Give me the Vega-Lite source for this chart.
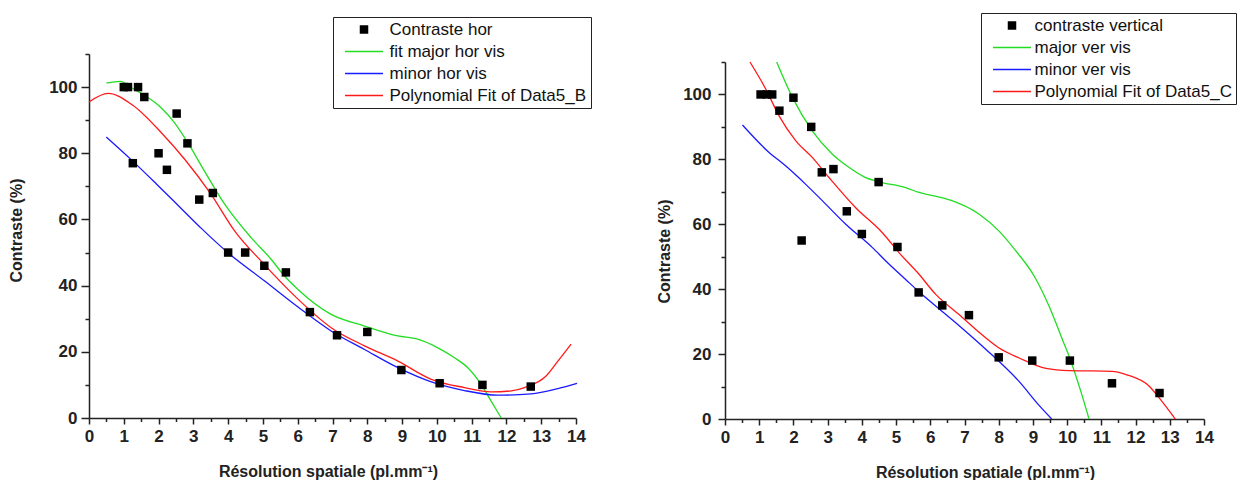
{
  "$schema": "https://vega.github.io/schema/vega-lite/v6.json",
  "background": "white",
  "padding": {"left": 8, "top": 12, "right": 0, "bottom": 0},
  "spacing": 64,
  "config": {
    "view": {"stroke": null},
    "font": "Liberation Sans",
    "axis": {
      "domainColor": "#222", "domainWidth": 1.5, "tickColor": "#222", "tickWidth": 1.5,
      "grid": false, "labelFont": "Liberation Sans", "labelFontWeight": "bold", "labelFontSize": 17,
      "labelColor": "#222", "titleFont": "Liberation Sans", "titleFontWeight": "bold", "titleFontSize": 16,
      "titleColor": "#222", "labelOverlap": false, "labelFlush": false
    }
  },
  "datasets": {
    "left": [
      {"x": 1.0, "y": 100, "series": "Contraste hor"},
      {"x": 1.12, "y": 100, "series": "Contraste hor"},
      {"x": 1.26, "y": 77, "series": "Contraste hor"},
      {"x": 1.41, "y": 100, "series": "Contraste hor"},
      {"x": 1.59, "y": 97, "series": "Contraste hor"},
      {"x": 2.0, "y": 80, "series": "Contraste hor"},
      {"x": 2.24, "y": 75, "series": "Contraste hor"},
      {"x": 2.52, "y": 92, "series": "Contraste hor"},
      {"x": 2.83, "y": 83, "series": "Contraste hor"},
      {"x": 3.17, "y": 66, "series": "Contraste hor"},
      {"x": 3.56, "y": 68, "series": "Contraste hor"},
      {"x": 4.0, "y": 50, "series": "Contraste hor"},
      {"x": 4.49, "y": 50, "series": "Contraste hor"},
      {"x": 5.04, "y": 46, "series": "Contraste hor"},
      {"x": 5.66, "y": 44, "series": "Contraste hor"},
      {"x": 6.35, "y": 32, "series": "Contraste hor"},
      {"x": 7.13, "y": 25, "series": "Contraste hor"},
      {"x": 8.0, "y": 26, "series": "Contraste hor"},
      {"x": 8.98, "y": 14.5, "series": "Contraste hor"},
      {"x": 10.08, "y": 10.5, "series": "Contraste hor"},
      {"x": 11.31, "y": 10, "series": "Contraste hor"},
      {"x": 12.7, "y": 9.5, "series": "Contraste hor"},

      {"x": 0.5, "y": 101.2, "series": "fit major hor vis"},
      {"x": 0.9, "y": 101.7, "series": "fit major hor vis"},
      {"x": 1.22, "y": 99.8, "series": "fit major hor vis"},
      {"x": 1.55, "y": 97.8, "series": "fit major hor vis"},
      {"x": 2.08, "y": 93.7, "series": "fit major hor vis"},
      {"x": 2.46, "y": 89.2, "series": "fit major hor vis"},
      {"x": 2.84, "y": 83.2, "series": "fit major hor vis"},
      {"x": 3.32, "y": 74.6, "series": "fit major hor vis"},
      {"x": 3.9, "y": 64.6, "series": "fit major hor vis"},
      {"x": 4.66, "y": 54.5, "series": "fit major hor vis"},
      {"x": 5.24, "y": 47.9, "series": "fit major hor vis"},
      {"x": 5.62, "y": 42.9, "series": "fit major hor vis"},
      {"x": 6.0, "y": 38.9, "series": "fit major hor vis"},
      {"x": 6.96, "y": 31.3, "series": "fit major hor vis"},
      {"x": 7.92, "y": 27.8, "series": "fit major hor vis"},
      {"x": 8.88, "y": 24.8, "series": "fit major hor vis"},
      {"x": 9.45, "y": 23.8, "series": "fit major hor vis"},
      {"x": 10.03, "y": 21.2, "series": "fit major hor vis"},
      {"x": 10.51, "y": 18.2, "series": "fit major hor vis"},
      {"x": 10.89, "y": 15.2, "series": "fit major hor vis"},
      {"x": 11.27, "y": 10.2, "series": "fit major hor vis"},
      {"x": 11.56, "y": 5.1, "series": "fit major hor vis"},
      {"x": 11.85, "y": 0, "series": "fit major hor vis"},

      {"x": 0.5, "y": 84.9, "series": "minor hor vis"},
      {"x": 1.22, "y": 78.0, "series": "minor hor vis"},
      {"x": 1.93, "y": 70.8, "series": "minor hor vis"},
      {"x": 2.7, "y": 62.8, "series": "minor hor vis"},
      {"x": 3.23, "y": 57.3, "series": "minor hor vis"},
      {"x": 4.0, "y": 49.9, "series": "minor hor vis"},
      {"x": 5.05, "y": 41.4, "series": "minor hor vis"},
      {"x": 6.0, "y": 33.6, "series": "minor hor vis"},
      {"x": 6.96, "y": 26.3, "series": "minor hor vis"},
      {"x": 7.92, "y": 20.7, "series": "minor hor vis"},
      {"x": 8.88, "y": 15.2, "series": "minor hor vis"},
      {"x": 9.84, "y": 10.9, "series": "minor hor vis"},
      {"x": 10.79, "y": 8.3, "series": "minor hor vis"},
      {"x": 11.75, "y": 6.9, "series": "minor hor vis"},
      {"x": 12.71, "y": 7.3, "series": "minor hor vis"},
      {"x": 13.48, "y": 8.9, "series": "minor hor vis"},
      {"x": 14.03, "y": 10.5, "series": "minor hor vis"},

      {"x": 0.0, "y": 95.5, "series": "Polynomial Fit of Data5_B"},
      {"x": 0.55, "y": 98.1, "series": "Polynomial Fit of Data5_B"},
      {"x": 1.26, "y": 94.5, "series": "Polynomial Fit of Data5_B"},
      {"x": 2.08, "y": 86.2, "series": "Polynomial Fit of Data5_B"},
      {"x": 2.75, "y": 78.2, "series": "Polynomial Fit of Data5_B"},
      {"x": 3.51, "y": 67.6, "series": "Polynomial Fit of Data5_B"},
      {"x": 4.19, "y": 56.5, "series": "Polynomial Fit of Data5_B"},
      {"x": 4.95, "y": 47.4, "series": "Polynomial Fit of Data5_B"},
      {"x": 6.0, "y": 36.0, "series": "Polynomial Fit of Data5_B"},
      {"x": 6.96, "y": 27.3, "series": "Polynomial Fit of Data5_B"},
      {"x": 7.92, "y": 21.8, "series": "Polynomial Fit of Data5_B"},
      {"x": 8.88, "y": 17.2, "series": "Polynomial Fit of Data5_B"},
      {"x": 9.84, "y": 11.7, "series": "Polynomial Fit of Data5_B"},
      {"x": 10.79, "y": 9.2, "series": "Polynomial Fit of Data5_B"},
      {"x": 11.56, "y": 7.9, "series": "Polynomial Fit of Data5_B"},
      {"x": 12.14, "y": 8.2, "series": "Polynomial Fit of Data5_B"},
      {"x": 12.52, "y": 9.2, "series": "Polynomial Fit of Data5_B"},
      {"x": 13.14, "y": 12.7, "series": "Polynomial Fit of Data5_B"},
      {"x": 13.48, "y": 17.2, "series": "Polynomial Fit of Data5_B"},
      {"x": 13.86, "y": 22.3, "series": "Polynomial Fit of Data5_B"}
    ],
    "right": [
      {"x": 1.04, "y": 100, "series": "contraste vertical"},
      {"x": 1.22, "y": 100, "series": "contraste vertical"},
      {"x": 1.38, "y": 100, "series": "contraste vertical"},
      {"x": 1.59, "y": 95, "series": "contraste vertical"},
      {"x": 2.0, "y": 99, "series": "contraste vertical"},
      {"x": 2.24, "y": 55, "series": "contraste vertical"},
      {"x": 2.52, "y": 90, "series": "contraste vertical"},
      {"x": 2.83, "y": 76, "series": "contraste vertical"},
      {"x": 3.17, "y": 77, "series": "contraste vertical"},
      {"x": 3.56, "y": 64, "series": "contraste vertical"},
      {"x": 4.0, "y": 57, "series": "contraste vertical"},
      {"x": 4.49, "y": 73, "series": "contraste vertical"},
      {"x": 5.04, "y": 53, "series": "contraste vertical"},
      {"x": 5.66, "y": 39, "series": "contraste vertical"},
      {"x": 6.35, "y": 35, "series": "contraste vertical"},
      {"x": 7.13, "y": 32, "series": "contraste vertical"},
      {"x": 8.0, "y": 19, "series": "contraste vertical"},
      {"x": 8.98, "y": 18, "series": "contraste vertical"},
      {"x": 10.08, "y": 18, "series": "contraste vertical"},
      {"x": 11.31, "y": 11, "series": "contraste vertical"},
      {"x": 12.7, "y": 8, "series": "contraste vertical"},

      {"x": 1.51, "y": 110, "series": "major ver vis"},
      {"x": 1.97, "y": 99.1, "series": "major ver vis"},
      {"x": 2.55, "y": 88.8, "series": "major ver vis"},
      {"x": 3.14, "y": 81.6, "series": "major ver vis"},
      {"x": 3.63, "y": 77.5, "series": "major ver vis"},
      {"x": 4.11, "y": 74.4, "series": "major ver vis"},
      {"x": 4.5, "y": 73.1, "series": "major ver vis"},
      {"x": 5.28, "y": 71.3, "series": "major ver vis"},
      {"x": 5.67, "y": 69.8, "series": "major ver vis"},
      {"x": 6.26, "y": 68.4, "series": "major ver vis"},
      {"x": 6.65, "y": 67.2, "series": "major ver vis"},
      {"x": 7.43, "y": 63.1, "series": "major ver vis"},
      {"x": 8.01, "y": 57.9, "series": "major ver vis"},
      {"x": 8.5, "y": 51.8, "series": "major ver vis"},
      {"x": 9.04, "y": 44, "series": "major ver vis"},
      {"x": 9.47, "y": 34.8, "series": "major ver vis"},
      {"x": 9.86, "y": 24.5, "series": "major ver vis"},
      {"x": 10.11, "y": 17.8, "series": "major ver vis"},
      {"x": 10.4, "y": 8.5, "series": "major ver vis"},
      {"x": 10.64, "y": 0, "series": "major ver vis"},

      {"x": 0.51, "y": 90.6, "series": "minor ver vis"},
      {"x": 1.24, "y": 82.6, "series": "minor ver vis"},
      {"x": 1.77, "y": 78, "series": "minor ver vis"},
      {"x": 2.36, "y": 72.3, "series": "minor ver vis"},
      {"x": 2.85, "y": 67.2, "series": "minor ver vis"},
      {"x": 3.53, "y": 60, "series": "minor ver vis"},
      {"x": 4.31, "y": 52.8, "series": "minor ver vis"},
      {"x": 4.7, "y": 48.7, "series": "minor ver vis"},
      {"x": 5.28, "y": 43, "series": "minor ver vis"},
      {"x": 5.67, "y": 39.2, "series": "minor ver vis"},
      {"x": 6.65, "y": 30.5, "series": "minor ver vis"},
      {"x": 7.62, "y": 21.5, "series": "minor ver vis"},
      {"x": 8.6, "y": 11.5, "series": "minor ver vis"},
      {"x": 9.18, "y": 4.2, "series": "minor ver vis"},
      {"x": 9.55, "y": 0, "series": "minor ver vis"},

      {"x": 0.73, "y": 110, "series": "Polynomial Fit of Data5_C"},
      {"x": 1.19, "y": 101.7, "series": "Polynomial Fit of Data5_C"},
      {"x": 1.58, "y": 93.4, "series": "Polynomial Fit of Data5_C"},
      {"x": 2.07, "y": 85.7, "series": "Polynomial Fit of Data5_C"},
      {"x": 2.55, "y": 80.6, "series": "Polynomial Fit of Data5_C"},
      {"x": 3.04, "y": 74.4, "series": "Polynomial Fit of Data5_C"},
      {"x": 3.82, "y": 65.1, "series": "Polynomial Fit of Data5_C"},
      {"x": 4.6, "y": 57.4, "series": "Polynomial Fit of Data5_C"},
      {"x": 5.09, "y": 51.2, "series": "Polynomial Fit of Data5_C"},
      {"x": 5.67, "y": 44.6, "series": "Polynomial Fit of Data5_C"},
      {"x": 6.16, "y": 38.4, "series": "Polynomial Fit of Data5_C"},
      {"x": 6.84, "y": 32.2, "series": "Polynomial Fit of Data5_C"},
      {"x": 7.33, "y": 27.6, "series": "Polynomial Fit of Data5_C"},
      {"x": 8.01, "y": 21.9, "series": "Polynomial Fit of Data5_C"},
      {"x": 8.6, "y": 18.8, "series": "Polynomial Fit of Data5_C"},
      {"x": 9.38, "y": 15.6, "series": "Polynomial Fit of Data5_C"},
      {"x": 10.06, "y": 14.9, "series": "Polynomial Fit of Data5_C"},
      {"x": 11.32, "y": 14.7, "series": "Polynomial Fit of Data5_C"},
      {"x": 11.72, "y": 13.7, "series": "Polynomial Fit of Data5_C"},
      {"x": 12.4, "y": 10.1, "series": "Polynomial Fit of Data5_C"},
      {"x": 12.69, "y": 6.5, "series": "Polynomial Fit of Data5_C"},
      {"x": 13.16, "y": 0, "series": "Polynomial Fit of Data5_C"}
    ]
  },
  "resolve": {"scale": {"color": "independent"}, "legend": {"color": "independent"}},
  "hconcat": [
    {
      "width": 487,
      "height": 364,
      "data": {"name": "left"},
      "encoding": {
        "x": {
          "field": "x", "type": "quantitative",
          "scale": {"domain": [0, 14], "nice": false, "zero": false},
          "axis": {
            "title": "Résolution spatiale (pl.mm⁻¹)",
            "values": [0,0.5,1,1.5,2,2.5,3,3.5,4,4.5,5,5.5,6,6.5,7,7.5,8,8.5,9,9.5,10,10.5,11,11.5,12,12.5,13,13.5,14],
            "labelExpr": "datum.value % 1 === 0 ? '' + datum.value : ''",
            "tickSize": {"condition": {"test": "datum.value % 1 === 0", "value": 6}, "value": 3.5},
            "labelPadding": 4,
            "titleX": 239, "titleY": 45, "titleBaseline": "top", "titleAlign": "center", "titleAnchor": "middle"
          }
        },
        "y": {
          "field": "y", "type": "quantitative",
          "scale": {"domain": [0, 110], "nice": false},
          "axis": {
            "title": "Contraste (%)",
            "values": [0,10,20,30,40,50,60,70,80,90,100,110],
            "labelExpr": "datum.value % 20 === 0 ? '' + datum.value : ''",
            "tickSize": {"condition": {"test": "datum.value % 20 === 0", "value": 8}, "value": 4},
            "labelPadding": 4,
            "titleAngle": 270, "titleBaseline": "bottom", "titleAlign": "center",
            "titleX": -65, "titleY": 176
          }
        },
        "color": {
          "field": "series", "type": "nominal",
          "scale": {
            "domain": ["Contraste hor", "fit major hor vis", "minor hor vis", "Polynomial Fit of Data5_B"],
            "range": ["#000000", "#22dd22", "#1a1aff", "#ff1a1a"]
          },
          "legend": {
            "title": null, "orient": "none", "legendX": 244, "legendY": -37, "direction": "vertical",
            "strokeColor": "#222", "fillColor": "white", "padding": 4,
            "labelFont": "Liberation Sans", "labelFontSize": 17, "labelColor": "#111", "labelFontWeight": "normal",
            "labelBaseline": "middle", "labelLimit": 400,
            "rowPadding": 4, "symbolOffset": 18.5, "labelOffset": 17,
            "symbolSize": 100, "symbolStrokeWidth": 1.5,
            "encoding": {
              "symbols": {
                "shape": {"condition": {"test": "datum.value === 'Contraste hor'", "value": "M-0.7,-0.7H0.7V0.7H-0.7Z"}, "value": "M-3.8,0H3.8"},
                "size": {"value": 100},
                "strokeWidth": {"value": 1.5},
                "opacity": {"value": 1},
                "fill": {"condition": {"test": "datum.value === 'Contraste hor'", "value": "#000000"}, "value": "transparent"},
                "stroke": {"condition": [
                  {"test": "datum.value === 'Contraste hor'", "value": "transparent"},
                  {"test": "datum.value === 'fit major hor vis'", "value": "#22dd22"},
                  {"test": "datum.value === 'minor hor vis'", "value": "#1a1aff"}
                ], "value": "#ff1a1a"}
              }
            }
          }
        }
      },
      "layer": [
        {
          "transform": [{"filter": "datum.series !== 'Contraste hor'"}],
          "mark": {"type": "line", "strokeWidth": 1.3, "interpolate": "monotone"}
        },
        {
          "transform": [{"filter": "datum.series === 'Contraste hor'"}],
          "mark": {"type": "point", "shape": "square", "filled": true, "size": 72, "opacity": 1}
        }
      ]
    },
    {
      "width": 479,
      "height": 365,
      "data": {"name": "right"},
      "encoding": {
        "x": {
          "field": "x", "type": "quantitative",
          "scale": {"domain": [0, 14], "nice": false, "zero": false},
          "axis": {
            "title": "Résolution spatiale (pl.mm⁻¹)",
            "values": [0,0.5,1,1.5,2,2.5,3,3.5,4,4.5,5,5.5,6,6.5,7,7.5,8,8.5,9,9.5,10,10.5,11,11.5,12,12.5,13,13.5,14],
            "labelExpr": "datum.value % 1 === 0 ? '' + datum.value : ''",
            "tickSize": {"condition": {"test": "datum.value % 1 === 0", "value": 6}, "value": 3.5},
            "labelPadding": 4,
            "titleX": 260, "titleY": 45, "titleBaseline": "top", "titleAlign": "center", "titleAnchor": "middle"
          }
        },
        "y": {
          "field": "y", "type": "quantitative",
          "scale": {"domain": [0, 110], "nice": false, "range": [365, 8]},
          "axis": {
            "title": "Contraste (%)",
            "values": [0,10,20,30,40,50,60,70,80,90,100,110],
            "labelExpr": "datum.value % 20 === 0 ? '' + datum.value : ''",
            "tickSize": {"condition": {"test": "datum.value % 20 === 0", "value": 7}, "value": 4},
            "labelPadding": 7,
            "titleAngle": 270, "titleBaseline": "bottom", "titleAlign": "center",
            "titleX": -53, "titleY": 197
          }
        },
        "color": {
          "field": "series", "type": "nominal",
          "scale": {
            "domain": ["contraste vertical", "major ver vis", "minor ver vis", "Polynomial Fit of Data5_C"],
            "range": ["#000000", "#22dd22", "#1a1aff", "#ff1a1a"]
          },
          "legend": {
            "title": null, "orient": "none", "legendX": 256, "legendY": -41, "direction": "vertical",
            "strokeColor": "#222", "fillColor": "white", "padding": 4,
            "labelFont": "Liberation Sans", "labelFontSize": 17, "labelColor": "#111", "labelFontWeight": "normal",
            "labelBaseline": "middle", "labelLimit": 400,
            "rowPadding": 4, "symbolOffset": 18.5, "labelOffset": 14,
            "symbolSize": 100, "symbolStrokeWidth": 1.5,
            "encoding": {
              "symbols": {
                "shape": {"condition": {"test": "datum.value === 'contraste vertical'", "value": "M-0.7,-0.7H0.7V0.7H-0.7Z"}, "value": "M-3.8,0H3.8"},
                "size": {"value": 100},
                "strokeWidth": {"value": 1.5},
                "opacity": {"value": 1},
                "fill": {"condition": {"test": "datum.value === 'contraste vertical'", "value": "#000000"}, "value": "transparent"},
                "stroke": {"condition": [
                  {"test": "datum.value === 'contraste vertical'", "value": "transparent"},
                  {"test": "datum.value === 'major ver vis'", "value": "#22dd22"},
                  {"test": "datum.value === 'minor ver vis'", "value": "#1a1aff"}
                ], "value": "#ff1a1a"}
              }
            }
          }
        }
      },
      "layer": [
        {
          "transform": [{"filter": "datum.series !== 'contraste vertical'"}],
          "mark": {"type": "line", "strokeWidth": 1.3, "interpolate": "monotone"}
        },
        {
          "transform": [{"filter": "datum.series === 'contraste vertical'"}],
          "mark": {"type": "point", "shape": "square", "filled": true, "size": 72, "opacity": 1}
        }
      ]
    }
  ]
}
